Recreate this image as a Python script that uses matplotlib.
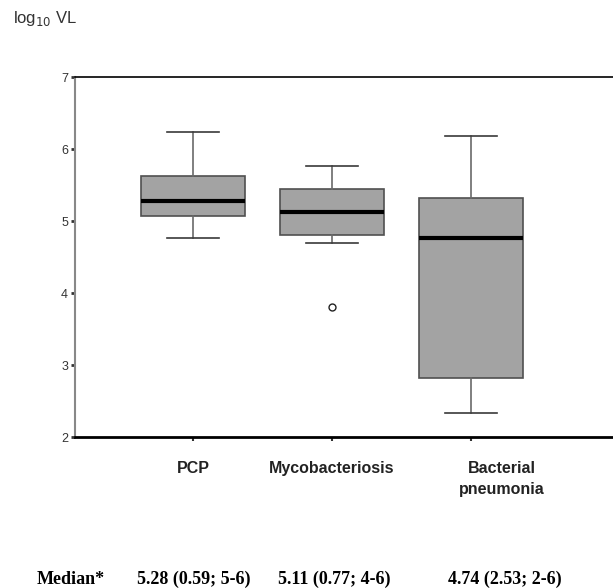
import matplotlib.pyplot as plt

plt.rcParams['font.family'] = ['Liberation Sans', 'DejaVu Sans']

# данные (log10 VL)
groups = ['PCP', 'Mycobacteriosis', 'Bacterial\npneumonia']
whislo = [4.77, 4.69, 2.33]
q1 = [5.07, 4.81, 2.82]
med = [5.28, 5.13, 4.76]
q3 = [5.63, 5.45, 5.32]
whishi = [6.23, 5.76, 6.18]
fliers = [[], [3.81], []]
yticks = [2, 3, 4, 5, 6, 7]
median_labels = ['5.28 (0.59; 5-6)', '5.11 (0.77; 4-6)', '4.74 (2.53; 2-6)']

stats = []
for i in range(len(groups)):
    stats.append({'whislo': whislo[i], 'q1': q1[i], 'med': med[i], 'q3': q3[i],
                  'whishi': whishi[i], 'fliers': fliers[i], 'label': groups[i]})

fig = plt.figure(figsize=(6.13, 5.88), dpi=100)
ax = fig.add_axes([0.1223, 0.2568, 0.8777, 0.6122])

ax.bxp(stats, positions=[1, 2, 3], widths=0.75, patch_artist=True,
       boxprops=dict(facecolor='#a3a3a3', edgecolor='#505050', linewidth=1.2),
       medianprops=dict(color='black', linewidth=3),
       whiskerprops=dict(color='#6a6a6a', linewidth=1.2),
       capprops=dict(color='#3a3a3a', linewidth=1.2),
       flierprops=dict(marker='o', markersize=5, markerfacecolor='white',
                       markeredgecolor='#222222', markeredgewidth=1.0))

ax.set_xlim(0.151, 4.02)
ax.set_ylim(2, 7)
ax.set_yticks(yticks)
ax.set_yticklabels([str(t) for t in yticks], fontsize=9, color='#333333')
ax.set_xticks([1, 2, 3])
ax.set_xticklabels([])
ax.tick_params(axis='y', length=3, width=2, color='#333333', pad=2)
ax.tick_params(axis='x', length=3, width=1.5, color='#333333')

ax.spines['right'].set_visible(False)
ax.spines['left'].set_color('#888888')
ax.spines['left'].set_linewidth(1.5)
ax.spines['top'].set_linewidth(1.2)
ax.spines['bottom'].set_linewidth(2)

# подписи групп
label_x = [1, 2, 3.22]
for x, g in zip(label_x, groups):
    ax.text(x, -0.068, g, transform=ax.get_xaxis_transform(),
            ha='center', va='top', fontsize=11.5, fontweight='bold', color='#222222',
            linespacing=1.45)

fig.text(13 / 613, 1 - 18 / 588, 'log$_{10}$ VL', fontsize=12, color='#333333',
         va='center', ha='left')

serif = ['Liberation Serif', 'DejaVu Serif']
fig.text(37 / 613, 1 - 579 / 588, 'Median*', family=serif, fontweight='bold',
         fontsize=13, va='center', ha='left')
for x, s in zip([137, 278, 448], median_labels):
    fig.text(x / 613, 1 - 579 / 588, s, family=serif, fontweight='bold',
             fontsize=13, va='center', ha='left')

fig.savefig('out.png', dpi=100)
